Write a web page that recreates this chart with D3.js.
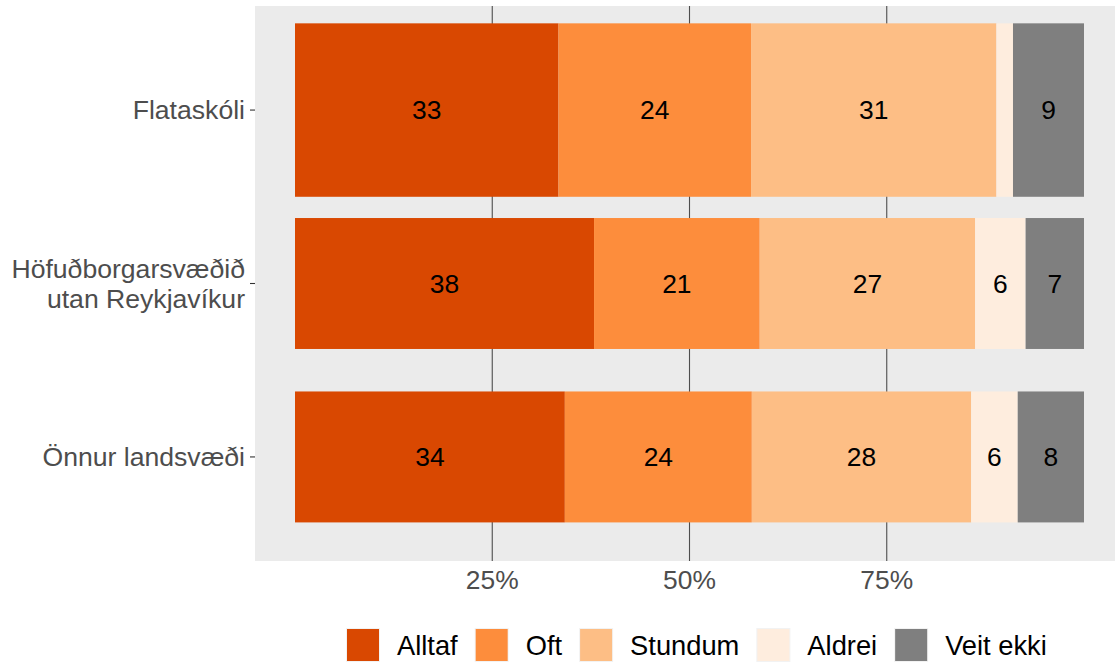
<!DOCTYPE html>
<html>
<head>
<meta charset="utf-8">
<script src="https://cdn.jsdelivr.net/npm/d3@7"></script>
<style>
  html, body { margin: 0; padding: 0; background: #ffffff; }
  svg { display: block; font-family: "Liberation Sans", Arial, sans-serif; }
</style>
</head>
<body>
<svg id="chart" width="1115" height="663"></svg>
<script>
// ---- data ----
const categories = ["Flataskóli", "Höfuðborgarsvæðið\nutan Reykjavíkur", "Önnur landsvæði"];
const seriesNames = ["Alltaf", "Oft", "Stundum", "Aldrei", "Veit ekki"];
const alltaf   = [33.4, 37.9, 34.2];
const oft      = [24.4, 21.0, 23.7];
const stundum  = [31.1, 27.3, 27.8];
const aldrei   = [2.1, 6.4, 5.9];
const veitEkki = [9.0, 7.4, 8.4];
const tickValues = [25, 50, 75];
const tickLabels = ["25%", "50%", "75%"];

const colors = ["#D94801", "#FD8D3C", "#FDBE85", "#FEEDDE", "#7F7F7F"];
const seriesValues = [alltaf, oft, stundum, aldrei, veitEkki];

const svg = d3.select("#chart");

// ---- scales ----
const panel = { left: 255, right: 1115, top: 6, bottom: 561 };
const x = d3.scaleLinear().domain([0, 100]).range([295, 1084]);
const y = d3.scaleLinear().domain([0.4, 3.6]).range([panel.top, panel.bottom]);
const step = y(2) - y(1);
const barFrac = i => (i === 0 ? 1.0 : 0.755);

// panel background
svg.append("rect")
  .attr("x", panel.left).attr("y", panel.top)
  .attr("width", panel.right - panel.left).attr("height", panel.bottom - panel.top)
  .attr("fill", "#EBEBEB");

// gridlines
svg.append("g").selectAll("line").data(tickValues).join("line")
  .attr("x1", d => x(d)).attr("x2", d => x(d))
  .attr("y1", panel.top).attr("y2", panel.bottom)
  .attr("stroke", "#4D4D4D").attr("stroke-width", 1.1);

// stacked data
const rows = categories.map((c, i) => {
  let cum = 0;
  return seriesNames.map((s, j) => {
    const v = seriesValues[j][i];
    const seg = { cat: i, series: j, v, x0: cum, x1: cum + v };
    cum += v;
    return seg;
  });
}).flat();

const bars = svg.append("g");
bars.selectAll("rect").data(rows).join("rect")
  .attr("x", d => x(d.x0))
  .attr("width", d => x(d.x1) - x(d.x0))
  .attr("y", d => y(d.cat + 1) - step * barFrac(d.cat) / 2)
  .attr("height", d => step * barFrac(d.cat))
  .attr("fill", d => colors[d.series]);

bars.selectAll("text").data(rows.filter(d => d.v >= 3)).join("text")
  .attr("x", d => x((d.x0 + d.x1) / 2))
  .attr("y", d => y(d.cat + 1))
  .attr("dy", "0.35em")
  .attr("text-anchor", "middle")
  .attr("font-size", 26.4)
  .attr("fill", "#000")
  .text(d => Math.round(d.v));

// y axis labels + ticks
const yAxis = svg.append("g");
categories.forEach((c, i) => {
  const cy = y(i + 1);
  yAxis.append("line")
    .attr("x1", panel.left - 5).attr("x2", panel.left)
    .attr("y1", cy).attr("y2", cy)
    .attr("stroke", "#333333").attr("stroke-width", 1.1);
  const lines = c.split("\n");
  const lh = 30;
  const t = yAxis.append("text")
    .attr("text-anchor", "end")
    .attr("font-size", 26.6)
    .attr("fill", "#4D4D4D");
  lines.forEach((ln, k) => {
    t.append("tspan")
      .attr("x", panel.left - 10)
      .attr("y", cy + (k - (lines.length - 1) / 2) * lh)
      .attr("dy", "0.35em")
      .text(ln);
  });
});

// x axis labels
svg.append("g").selectAll("text").data(tickValues).join("text")
  .attr("x", d => x(d))
  .attr("y", 580)
  .attr("dy", "0.35em")
  .attr("text-anchor", "middle")
  .attr("font-size", 26.4)
  .attr("fill", "#4D4D4D")
  .text((d, i) => tickLabels[i]);

// legend
const legend = svg.append("g");
let lx = 347;
const ly = 629, ks = 32;
seriesNames.forEach((s, j) => {
  legend.append("rect")
    .attr("x", lx - 1).attr("y", ly - 1).attr("width", ks + 2).attr("height", ks + 2)
    .attr("fill", "#F2F2F2");
  legend.append("rect")
    .attr("x", lx).attr("y", ly).attr("width", ks).attr("height", ks)
    .attr("fill", colors[j]);
  const t = legend.append("text")
    .attr("x", lx + ks + 18)
    .attr("y", ly + ks / 2)
    .attr("dy", "0.35em")
    .attr("font-size", 27.3)
    .attr("fill", "#000")
    .text(s);
  lx = lx + ks + 18 + t.node().getComputedTextLength() + 18;
});
</script>
</body>
</html>
